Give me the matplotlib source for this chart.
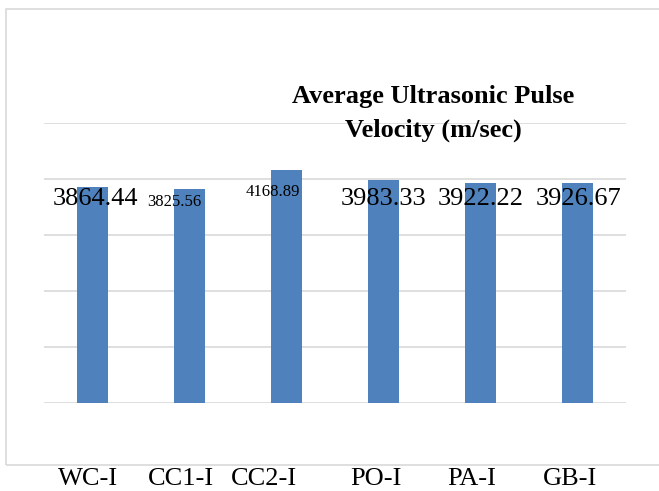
import matplotlib
matplotlib.use('Agg')
import matplotlib.pyplot as plt
from matplotlib.patches import Rectangle
from matplotlib.transforms import blended_transform_factory, offset_copy

categories = ['WC-I', 'CC1-I', 'CC2-I', 'PO-I', 'PA-I', 'GB-I']
velocity = [3864.44, 3825.56, 4168.89, 3983.33, 3922.22, 3926.67]
value_labels = ['3864.44', '3825.56', '4168.89', '3983.33', '3922.22', '3926.67']
title_lines = ['Average Ultrasonic Pulse', 'Velocity (m/sec)']

# label styling (pixel offsets from bar top, font sizes)
lab_dx = [3, -15, -14, 0, 0, 1]
lab_dy = [-12, -13, -22, -19, -16, -16]
lab_size = [19, 12, 12, 19, 19, 19]
cat_dx = [-4, -9, -23, -8, -9, -8]

W, H = 659, 491
plt.rcParams['font.family'] = ['Liberation Serif', 'DejaVu Serif']

fig = plt.figure(figsize=(W / 100, H / 100), dpi=100)
fig.patches.append(Rectangle((6 / W, 1 - 465 / H), 700 / W, 456 / H,
                             transform=fig.transFigure, fill=False,
                             edgecolor='#D9D9D9', linewidth=1.2))

ax = fig.add_axes([44 / W, 1 - 403 / H, 582 / W, 280 / H])
x = range(len(categories))
ax.bar(x, velocity, width=0.31, color='#4F81BD', zorder=2)
ax.set_xlim(-0.5, len(categories) - 0.5)
ax.set_ylim(0, 5000)
ax.set_yticks(range(0, 5001, 1000))
ax.yaxis.grid(True, color='#D9D9D9', linewidth=1.2, zorder=0)
ax.set_axisbelow(True)
ax.tick_params(left=False, bottom=False, labelleft=False, labelbottom=False)
for s in ax.spines.values():
    s.set_visible(False)

for i, v in enumerate(velocity):
    ax.annotate(value_labels[i], (i, v), xytext=(lab_dx[i], lab_dy[i]),
                textcoords='offset pixels', ha='center', va='center',
                fontsize=lab_size[i], zorder=3)

# category names sit below the chart frame
tr = blended_transform_factory(ax.transData, fig.transFigure)
for i, c in enumerate(categories):
    ax.text(i, 1 / H, c, transform=offset_copy(tr, fig=fig, x=cat_dx[i], y=0, units='dots'),
            ha='center', va='bottom', fontsize=19, clip_on=False)

for line, base in zip(title_lines, [103, 137]):
    fig.text(433 / W, 1 - base / H, line, ha='center', va='baseline',
             fontsize=19, fontweight='bold', zorder=5)

fig.savefig('out.png', dpi=100)
